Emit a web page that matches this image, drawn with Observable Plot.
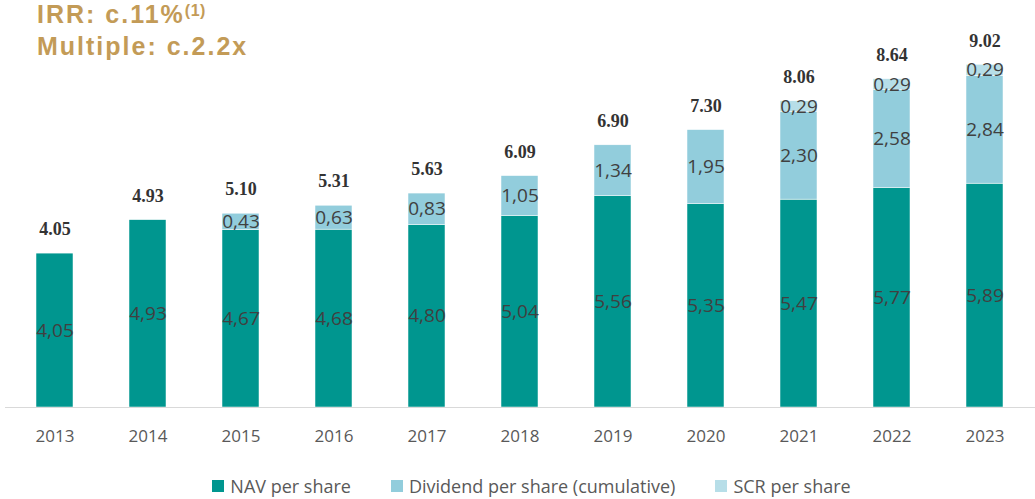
<!DOCTYPE html>
<html>
<head>
<meta charset="utf-8">
<script src="https://cdn.jsdelivr.net/npm/d3@7"></script>
<script src="https://cdn.jsdelivr.net/npm/@observablehq/plot@0.6"></script>
<style>
  html, body { margin: 0; padding: 0; background: #fff; }
  #wrap { position: relative; width: 1035px; height: 499px; overflow: hidden; }
  .title { position: absolute; left: 37px; font-family: "Liberation Sans", Arial, sans-serif; font-weight: 700; font-size: 25px; letter-spacing: 2px; line-height: 28px; height: 28px; color: #C39B57; z-index: 2; white-space: nowrap; }
  #t1 { top: 0px; }
  #t2 { top: 32px; }
  .title sup { font-size: 16px; vertical-align: 7px; line-height: 0; letter-spacing: 0.5px; }
  #legend { position: absolute; left: 28px; top: 474px; width: 1007px; display: flex; justify-content: center; gap: 40px; font-family: "Open Sans", sans-serif; font-size: 18px; color: #595959; }
  #legend span.item { display: flex; align-items: center; }
  #legend span.sw { display: inline-block; width: 12px; height: 12px; margin-right: 6px; }
  #chart { position: absolute; left: 0; top: 0; }
</style>
</head>
<body>
<div id="wrap">
  <div class="title" id="t1">IRR: c.11%<sup>(1)</sup></div>
  <div class="title" id="t2">Multiple: c.2.2x</div>
  <div id="chart"></div>
  <div id="legend"></div>
</div>
<script>
const years = ["2013","2014","2015","2016","2017","2018","2019","2020","2021","2022","2023"];
const navPerShare = [4.05,4.93,4.67,4.68,4.80,5.04,5.56,5.35,5.47,5.77,5.89];
const dividendPerShare = [0,0,0.43,0.63,0.83,1.05,1.34,1.95,2.30,2.58,2.84];
const scrPerShare = [0,0,0,0,0,0,0,0,0.29,0.29,0.29];
const totals = [4.05,4.93,5.10,5.31,5.63,6.09,6.90,7.30,8.06,8.64,9.02];
const seriesNames = ["NAV per share","Dividend per share (cumulative)","SCR per share"];
const seriesColors = ["#00968F","#92CDDC","#B7DEE8"];

const rows = [];
years.forEach((y, i) => {
  [navPerShare, dividendPerShare, scrPerShare].forEach((arr, k) => {
    if (arr[i] > 0) rows.push({year: y, series: seriesNames[k], value: arr[i]});
  });
});
const totalRows = years.map((y, i) => ({year: y, total: totals[i]}));
const fmtComma = v => v.toFixed(2).replace(".", ",");

const chart = Plot.plot({
  width: 1035,
  height: 465,
  marginLeft: 5,
  marginRight: 0,
  marginTop: 27,
  marginBottom: 58,
  x: {domain: years, paddingInner: 0.6, paddingOuter: 0.3, label: null},
  y: {domain: [0, 10], axis: null},
  color: {domain: seriesNames, range: seriesColors},
  style: {fontFamily: "Open Sans, sans-serif", background: "transparent"},
  marks: [
    Plot.barY(rows, {x: "year", y: "value", fill: "series", order: seriesNames, stroke: "#ffffff", strokeWidth: 0.5}),
    Plot.ruleY([0], {stroke: "#D9D9D9", strokeWidth: 1}),
    Plot.text(rows, Plot.stackY({x: "year", y: "value", z: "series", order: seriesNames, text: d => fmtComma(d.value), fill: "#404040", fontSize: 19})),
    Plot.text(totalRows, {x: "year", y: "total", text: d => d.total.toFixed(2), dy: -24, fill: "#333333", fontSize: 18, fontWeight: "bold", fontFamily: "Liberation Serif, serif"}),
    Plot.axisX({tickSize: 0, tickPadding: 22, fontSize: 17, color: "#595959", label: null})
  ]
});
document.getElementById("chart").appendChild(chart);

const legend = document.getElementById("legend");
seriesNames.forEach((n, k) => {
  const it = document.createElement("span");
  it.className = "item";
  const sw = document.createElement("span");
  sw.className = "sw";
  sw.style.background = seriesColors[k];
  it.appendChild(sw);
  it.appendChild(document.createTextNode(n));
  legend.appendChild(it);
});
</script>
</body>
</html>
